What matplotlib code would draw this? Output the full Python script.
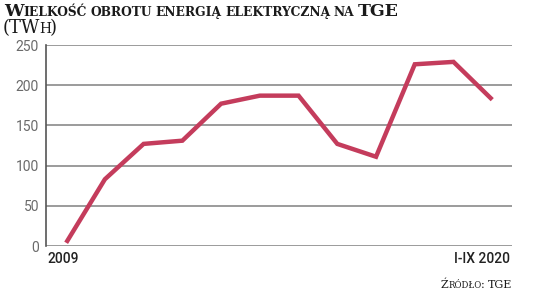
import matplotlib.pyplot as plt
from matplotlib.transforms import IdentityTransform, blended_transform_factory

# wolumen obrotu energią elektryczną na TGE (TWh)
years = ["2009", "2010", "2011", "2012", "2013", "2014", "2015",
         "2016", "2017", "2018", "2019", "I-IX 2020"]
volume = [4, 83, 127, 131, 177, 187, 187, 127, 111, 226, 229, 182]
yticks = [0, 50, 100, 150, 200, 250]

title = "Wielkość obrotu energią elektryczną na TGE"
unit = "(TWh)"
source = "Źródło: TGE"

RED = "#c43c5c"
GRID = "#8a8a8a"

fig = plt.figure(figsize=(5.36, 2.93), dpi=100)
ax = fig.add_axes([46 / 536, 47 / 293, 466 / 536, 201 / 293])

ax.plot(range(len(volume)), volume, color=RED, lw=3.2,
        solid_capstyle="butt", solid_joinstyle="miter", zorder=3)

ax.set_xlim(-0.52, len(volume) - 0.49)
ax.set_ylim(0, 250)
ax.set_yticks(yticks)
ax.set_yticklabels([str(v) for v in yticks], fontfamily="Roboto",
                   fontsize=10, color="#6a6a6a")
ax.set_xticks([])
ax.tick_params(axis="y", length=0, pad=5)
ax.grid(axis="y", color=GRID, lw=1.2)
for s in ["top", "right", "bottom"]:
    ax.spines[s].set_visible(False)
ax.spines["left"].set_color("#555555")
ax.spines["left"].set_linewidth(1.2)

tr = blended_transform_factory(ax.transAxes, fig.transFigure)
ax.text(0.004, 1 - 263 / 293, years[0], transform=tr, ha="left",
        va="baseline", fontfamily="Roboto", fontweight="medium",
        fontsize=10, color="#222222")
ax.text(0.995, 1 - 263 / 293, years[-1], transform=tr, ha="right",
        va="baseline", fontfamily="Roboto", fontweight="medium",
        fontsize=10, color="#222222")

renderer = fig.canvas.get_renderer()


def small_caps(x, y, text, big, small, weight, gap, kern=0):
    # kapitaliki: wielkie litery duze, male jako mniejsze wersaliki
    texts = []
    for word in text.split(" "):
        runs = []
        for ch in word:
            up = not ch.islower()
            if runs and runs[-1][1] == up:
                runs[-1][0] += ch
            else:
                runs.append([ch, up])
        for chunk, up in runs:
            t = fig.text(x, y, chunk.upper(), transform=IdentityTransform(),
                         fontfamily="DejaVu Serif", fontweight=weight,
                         fontsize=big if up else small, color="#1a1a1a",
                         va="baseline", ha="left")
            texts.append(t)
            x = t.get_window_extent(renderer).x1 + kern
        x += gap
    return texts, x - gap


small_caps(4, 293 - 16, title, 12.5, 8.8, "bold", 3.5)
small_caps(3, 293 - 33, unit, 13, 10, "normal", 3, kern=-1.5)

# zrodlo w prawym dolnym rogu
texts, end = small_caps(0, 5, source, 8, 6.2, "normal", 2.5)
for t in texts:
    px, py = t.get_position()
    t.set_position((px + 512 - end, py))

fig.savefig("out.png", dpi=100)
